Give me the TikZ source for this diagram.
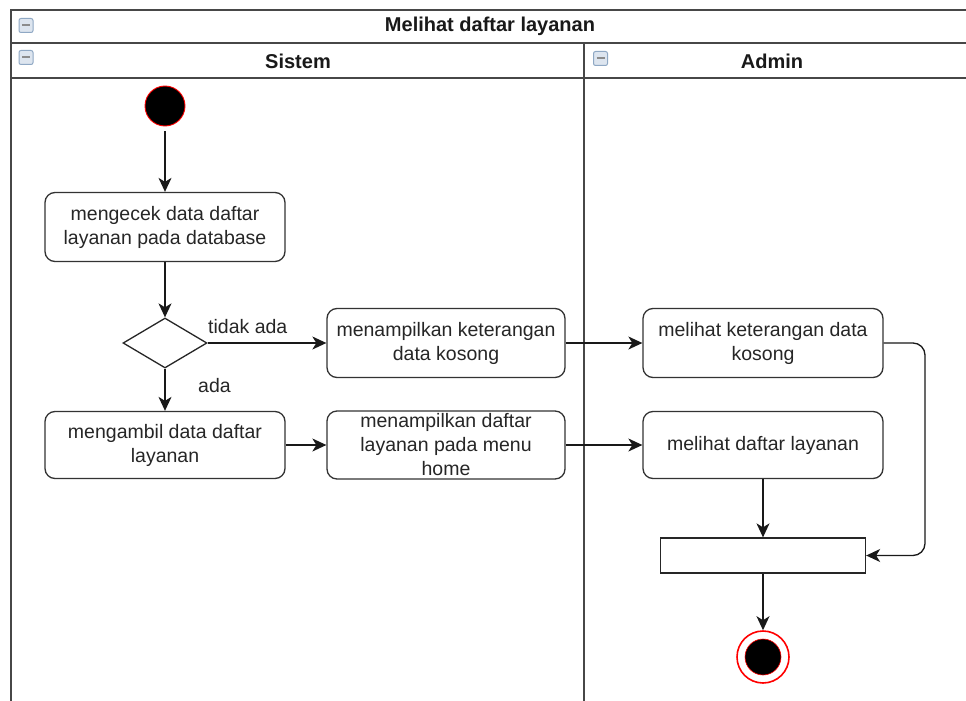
\documentclass[tikz,border=0pt]{standalone}
\usepackage{fontspec}
\setmainfont{Liberation Sans}
\usetikzlibrary{arrows.meta,shapes.geometric}
\definecolor{iconfill}{HTML}{DDE5EF}
\definecolor{iconedge}{HTML}{8FA8C4}
\definecolor{startred}{HTML}{FF0000}
\begin{document}
\begin{tikzpicture}[x=1pt,y=-1pt,
  frame/.style={draw=black!72, line width=1.8pt},
  act/.style={draw=black!80, line width=1.3pt, rounded corners=10pt, fill=white,
    minimum width=240pt, minimum height=69pt, align=center, inner sep=0pt,
    font=\fontsize{19.5}{24}\selectfont, text=black!85},
  hdr/.style={font=\fontsize{20}{24}\selectfont\bfseries, text=black!90, inner sep=0pt},
  lbl/.style={font=\fontsize{19.5}{24}\selectfont, text=black!85, inner sep=0pt, anchor=west},
  flow/.style={draw=black!90, line width=1.3pt, -{Stealth[length=14pt,width=13pt,inset=4pt]}},
  icon/.style={draw=iconedge, fill=iconfill, line width=1pt, rounded corners=2pt,
    minimum size=14pt, inner sep=0pt,
    path picture={\draw[black!45, line width=2pt] ([xshift=-4pt]path picture bounding box.center) -- ([xshift=4pt]path picture bounding box.center);}}
]
\useasboundingbox (0,0) rectangle (966,701);
\fill[white] (0,0) rectangle (966,701);

% pool and lanes
\draw[frame] (11,715) -- (11,10) -- (975,10);
\draw[frame] (11,43) -- (975,43);
\draw[frame] (11,78) -- (975,78);
\draw[frame] (584,43) -- (584,715);
\draw[frame] (968,10) -- (968,715);

\node[hdr] (title) at (490,26) {Melihat daftar layanan};
\node[hdr] (sistem) at (298,61) {Sistem};
\node[hdr] (admin) at (772,61) {Admin};
\node[icon] (ic1) at (26,25.5) {};
\node[icon] (ic2) at (26,57.5) {};
\node[icon] (ic3) at (600.5,58.5) {};

% nodes
\node[circle, fill=black, draw=startred, line width=0.9pt, minimum size=40pt, inner sep=0pt] (start) at (165,106) {};
\node[act] (check) at (165,227) {mengecek data daftar\\layanan pada database};
\node[diamond, draw=black!85, line width=1.3pt, fill=white, minimum width=84pt, minimum height=50pt, inner sep=0pt] (dec) at (165,343) {};
\node[act, minimum width=238pt] (ket) at (446,343) {menampilkan keterangan\\data kosong};
\node[act, minimum height=67pt] (take) at (165,445) {mengambil data daftar\\layanan};
\node[act, minimum width=238pt, minimum height=68pt] (show) at (446,445) {menampilkan daftar\\layanan pada menu\\home};
\node[act] (aket) at (763,343) {melihat keterangan data\\kosong};
\node[act, minimum height=67pt] (alist) at (763,445) {melihat daftar layanan};
\node[draw=black!85, line width=1.3pt, fill=white, minimum width=205pt, minimum height=35pt, inner sep=0pt] (bar) at (763,555.5) {};
\node[circle, draw=startred, line width=1.6pt, fill=white, minimum size=52pt, inner sep=0pt] (endo) at (763,657) {};
\node[circle, fill=black, draw=startred, line width=0.6pt, minimum size=36pt, inner sep=0pt] (endi) at (763,657) {};

\node[lbl] (ltidak) at (208,327) {tidak ada};
\node[lbl] (lada) at (198,386) {ada};

\coordinate (turn) at (925,450);

% connectors
\draw[flow, shorten <=5pt] (start) -- (check);
\draw[flow] (check) -- (dec);
\draw[flow] (dec.east) -- (ket.west);
\draw[flow] (dec.south) -- (take.north);
\draw[flow] (take) -- (show);
\draw[flow] (ket) -- (aket);
\draw[flow] (show) -- (alist);
\draw[flow] (alist) -- (bar);
\draw[flow] (bar) -- (endo);
\draw[flow, rounded corners=12pt] (aket.east) -| (turn) |- (bar.east);
\end{tikzpicture}
\end{document}
